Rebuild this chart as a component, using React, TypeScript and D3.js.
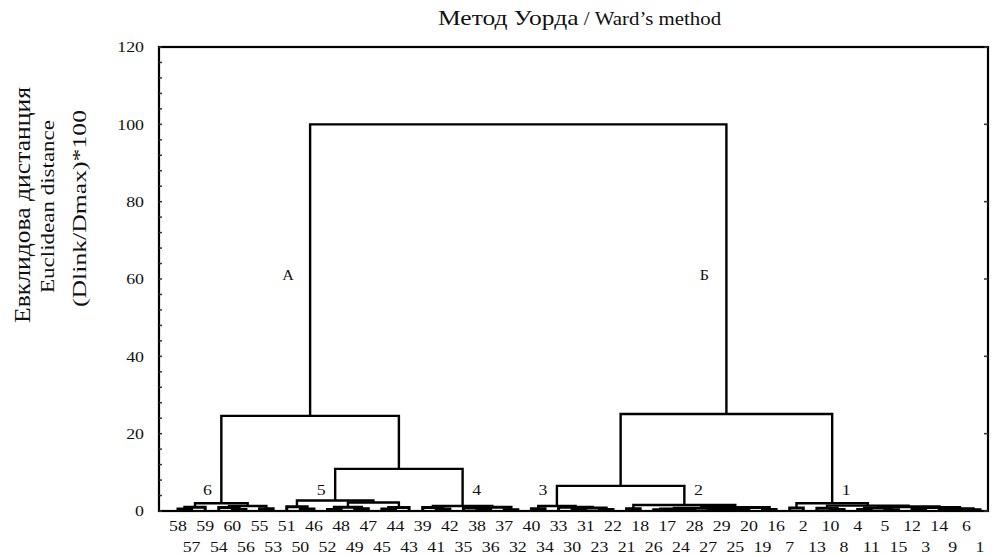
import React from "react";
import * as d3 from "d3";

type Node = number | [Node, Node, number];

// leaf order along the x axis (left to right)
const leafOrder: number[] = [
  58, 57, 59, 54, 60, 56, 55, 53, 51, 50, 46, 52, 48, 49, 47, 45, 44, 43, 39, 41,
  42, 35, 38, 36, 37, 32, 40, 34, 33, 30, 31, 23, 22, 21, 18, 26, 17, 24, 28, 27,
  29, 25, 20, 19, 16, 7, 2, 13, 10, 8, 4, 11, 5, 15, 12, 3, 14, 9, 6, 1,
];

const yTicks: number[] = [0, 20, 40, 60, 80, 100, 120];

// clusters: [left, right, linkage distance]
const cluster6: Node = [
  [[58, 57, 0.5], 59, 1.0],
  [[54, [60, 56, 0.4], 0.9], [55, 53, 0.6], 1.3],
  2.0,
];
const cluster5: Node = [
  [51, [50, 46, 0.5], 1.1],
  [[[52, 48, 0.4], [49, 47, 0.6], 1.0], [[45, 44, 0.5], 43, 0.9], 2.2],
  2.7,
];
const cluster4: Node = [
  [39, [41, 42, 0.5], 0.9],
  [[35, [38, 36, 0.4], 0.8], [37, 32, 0.3], 1.0],
  1.3,
];
const cluster3: Node = [
  [40, 34, 0.6],
  [33, [[30, 31, 0.5], [23, 22, 0.4], 0.8], 1.0],
  1.3,
];
const cluster2: Node = [
  [21, 18, 0.6],
  [
    [[[26, 17, 0.3], [24, 28, 0.4], 0.5], [[27, 29, 0.4], [25, 20, 0.3], 0.6], 0.7],
    [19, 16, 0.4],
    0.9,
  ],
  1.55,
];
const cluster1: Node = [
  [7, 2, 0.8],
  [
    [13, [10, 8, 0.4], 0.7],
    [[[4, 11, 0.4], [5, 15, 0.3], 0.8], [[12, 3, 0.5], [[14, 9, 0.4], [6, 1, 0.3], 0.6], 0.9], 1.1],
    1.4,
  ],
  2.0,
];
const cluster54: Node = [cluster5, cluster4, 10.9];
const groupA: Node = [cluster6, cluster54, 24.6];
const cluster32: Node = [cluster3, cluster2, 6.5];
const groupB: Node = [cluster32, cluster1, 25.1];
const rootNode: Node = [groupA, groupB, 100];

const clusterNodes: Node[] = [cluster6, cluster5, cluster4, cluster3, cluster2, cluster1];
const clusterNames: string[] = ["6", "5", "4", "3", "2", "1"];
const clusterSides: number[] = [-1, -1, 1, -1, 1, 1];
const groupNodes: Node[] = [groupA, groupB];
const groupNames: string[] = ["А", "Б"];

const titleRu = "Метод Уорда";
const titleEn = " / Ward’s method";
const yTitle: string[] = ["Евклидова дистанция", "Euclidean distance", "(Dlink/Dmax)*100"];

const W = 993;
const H = 555;
const FONT = "'Liberation Serif', 'Times New Roman', serif";
const SX = 1.15;

export default function App() {
  const x0 = 159, x1 = 988, yTop = 47, yBot = 511;
  const y = d3.scaleLinear().domain([0, 120]).range([yBot, yTop]);
  const xs = d3.scalePoint<string>().domain(leafOrder.map(String)).range([178, 980]);

  const hier = d3.hierarchy<Node>(rootNode, (d) => (Array.isArray(d) ? [d[0], d[1]] : null));
  const pos = new Map<Node, { x: number; v: number }>();
  hier.eachAfter((n) => {
    if (!n.children) {
      pos.set(n.data, { x: xs(String(n.data)) as number, v: 0 });
    } else {
      const a = pos.get(n.children[0].data)!;
      const b = pos.get(n.children[1].data)!;
      pos.set(n.data, { x: (a.x + b.x) / 2, v: (n.data as [Node, Node, number])[2] });
    }
  });

  const paths: { d: string; low: boolean }[] = [];
  hier.each((n) => {
    if (!n.children) return;
    const p = pos.get(n.data)!;
    const a = pos.get(n.children[0].data)!;
    const b = pos.get(n.children[1].data)!;
    const path = d3.path();
    path.moveTo(a.x, y(a.v));
    path.lineTo(a.x, y(p.v));
    path.lineTo(b.x, y(p.v));
    path.lineTo(b.x, y(b.v));
    paths.push({ d: path.toString(), low: p.v < 1.2 });
  });

  const minor = d3.range(0, 121, 4);

  return (
    <svg width={W} height={H} style={{ position: "absolute", left: 0, top: 0, background: "#fff" }}>
      <rect x={0} y={0} width={W} height={H} fill="#fff" />
      {/* title */}
      <text transform={`translate(438,25) scale(1.16,1)`} fontFamily={FONT} fill="#111">
        <tspan fontSize={22}>{titleRu}</tspan>
        <tspan fontSize={18}>{titleEn}</tspan>
      </text>
      {/* y title */}
      {yTitle.map((t, i) => {
        const bx = [30, 54, 86][i];
        const cy = [205, 206.5, 208.5][i];
        const fs = [24, 18, 18][i];
        const len = [236, 173, 197][i];
        return (
          <text
            key={t}
            transform={`translate(${bx},${cy}) rotate(-90)`}
            textAnchor="middle"
            fontFamily={FONT}
            fontSize={fs}
            textLength={len}
            lengthAdjust="spacingAndGlyphs"
            fill="#111"
          >
            {t}
          </text>
        );
      })}
      {/* frame */}
      <rect x={x0} y={yTop} width={x1 - x0} height={yBot - yTop} fill="none" stroke="#000" strokeWidth={2.2} />
      {minor.map((v) => (
        <line key={"m" + v} x1={x0} x2={x0 + 3} y1={y(v)} y2={y(v)} stroke="#333" strokeWidth={1.5} />
      ))}
      {yTicks.map((v) => (
        <line key={"r" + v} x1={x1} x2={x1 - 4} y1={y(v)} y2={y(v)} stroke="#333" strokeWidth={1.5} />
      ))}
      {/* y tick labels */}
      {yTicks.map((v) => (
        <text
          key={"t" + v}
          transform={`translate(144,${y(v)}) scale(${SX},1)`}
          textAnchor="end"
          dy="0.35em"
          fontFamily={FONT}
          fontSize={15.5}
          fill="#111"
        >
          {v}
        </text>
      ))}
      {/* dendrogram */}
      <g fill="none" stroke="#000">
        {paths.map((p, i) => (
          <path key={i} d={p.d} strokeWidth={p.low ? 3 : 2.4} />
        ))}
      </g>
      {/* leaf labels */}
      {leafOrder.map((l, i) => (
        <text
          key={"l" + l}
          transform={`translate(${xs(String(l))},${i % 2 === 0 ? 531 : 552}) scale(${SX},1)`}
          textAnchor="middle"
          fontFamily={FONT}
          fontSize={15.5}
          fill="#111"
        >
          {l}
        </text>
      ))}
      {/* cluster labels */}
      {clusterNodes.map((c, i) => {
        const p = pos.get(c)!;
        return (
          <text
            key={"c" + i}
            transform={`translate(${p.x + clusterSides[i] * 14},${495}) scale(${SX},1)`}
            textAnchor="middle"
            fontFamily={FONT}
            fontSize={15.5}
            fill="#111"
          >
            {clusterNames[i]}
          </text>
        );
      })}
      {groupNodes.map((g, i) => {
        const p = pos.get(g)!;
        return (
          <text
            key={"g" + i}
            transform={`translate(${p.x - 22},${280}) scale(${SX},1)`}
            textAnchor="middle"
            fontFamily={FONT}
            fontSize={14}
            fill="#111"
          >
            {groupNames[i]}
          </text>
        );
      })}
    </svg>
  );
}
